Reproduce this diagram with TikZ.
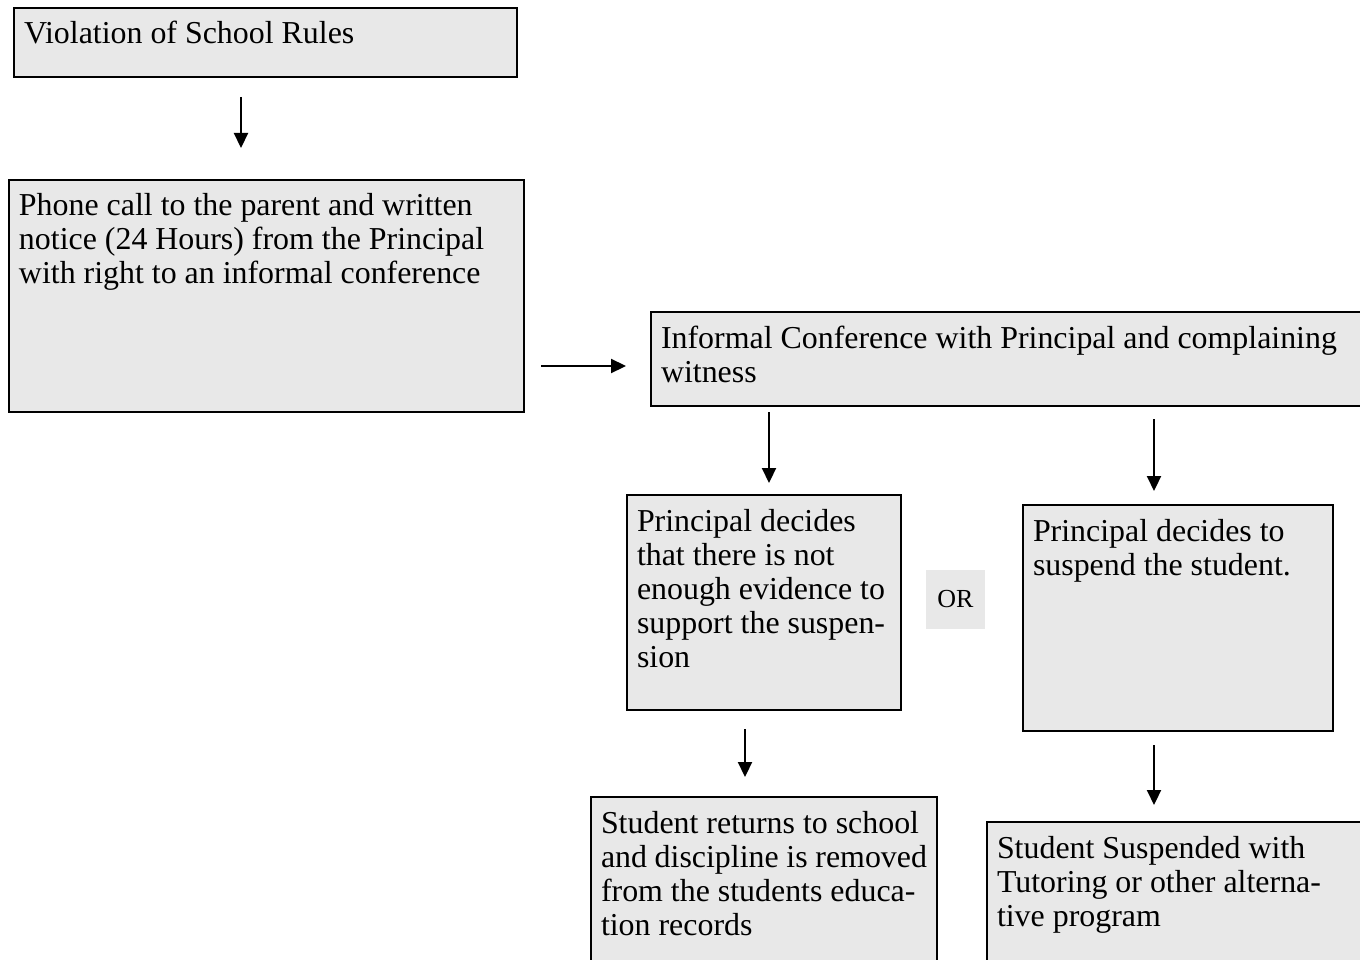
\documentclass[tikz,border=0pt]{standalone}
\usepackage{fontspec}
\setmainfont{Liberation Serif}
\usetikzlibrary{arrows.meta}
\definecolor{boxgray}{RGB}{232,232,232}
\newcommand{\bxt}[3]{\parbox[t][#2][t]{#1}{\raggedright\strut #3}}
\tikzset{
  flowbox/.style={draw=black, line width=2.8pt, fill=boxgray, anchor=north west,
    inner xsep=10pt, inner ysep=12.2pt, outer sep=0pt,
    font=\fontsize{31.9pt}{34pt}\selectfont},
  orbox/.style={fill=boxgray, draw=none, minimum width=59pt, minimum height=59pt,
    inner sep=0pt, font=\fontsize{26pt}{28pt}\selectfont},
  flowarrow/.style={line width=2.2pt, -{Triangle[length=15pt,width=14pt]}}
}
\begin{document}
\begin{tikzpicture}[x=1pt,y=1pt]
\useasboundingbox (0,0) rectangle (1360,-960);
\clip (0,0) rectangle (1360,-960);
\node[flowbox] (viol) at (14,-8) {\bxt{483pt}{44.6pt}{Violation of School Rules}};
\node[flowbox] (phone) at (9,-180) {\bxt{495pt}{207.6pt}{Phone call to the parent and written\\notice (24 Hours) from the Principal\\with right to an informal conference}};
\node[flowbox] (inf) at (651,-312) {\bxt{709pt}{69.6pt}{Informal Conference with Principal and complaining\\witness}};
\node[flowbox] (pnot) at (627,-495) {\bxt{254pt}{190.6pt}{Principal decides\\that there is not\\enough evidence to\\support the suspen-\\sion}};
\node[orbox] (or) at (955.5,-599.5) {OR};
\node[flowbox] (psus) at (1023,-505) {\bxt{290pt}{201.6pt}{Principal decides to\\suspend the student.}};
\node[flowbox] (sret) at (591,-797) {\bxt{326pt}{175.6pt}{Student returns to school\\and discipline is removed\\from the students educa-\\tion records}};
\node[flowbox] (ssus) at (987,-822) {\bxt{370pt}{175.6pt}{Student Suspended with\\Tutoring or other alterna-\\tive program}};
\coordinate (a1s) at (241,-97);   \coordinate (a1e) at (241,-148);
\coordinate (a2s) at (541,-366);  \coordinate (a2e) at (626,-366);
\coordinate (a3s) at (769,-412);  \coordinate (a3e) at (769,-483);
\coordinate (a4s) at (1154,-419); \coordinate (a4e) at (1154,-491);
\coordinate (a5s) at (745,-729);  \coordinate (a5e) at (745,-777);
\coordinate (a6s) at (1154,-745); \coordinate (a6e) at (1154,-805);
\draw[flowarrow] (a1s) -- (a1e);
\draw[flowarrow] (a2s) -- (a2e);
\draw[flowarrow] (a3s) -- (a3e);
\draw[flowarrow] (a4s) -- (a4e);
\draw[flowarrow] (a5s) -- (a5e);
\draw[flowarrow] (a6s) -- (a6e);
\end{tikzpicture}
\end{document}
